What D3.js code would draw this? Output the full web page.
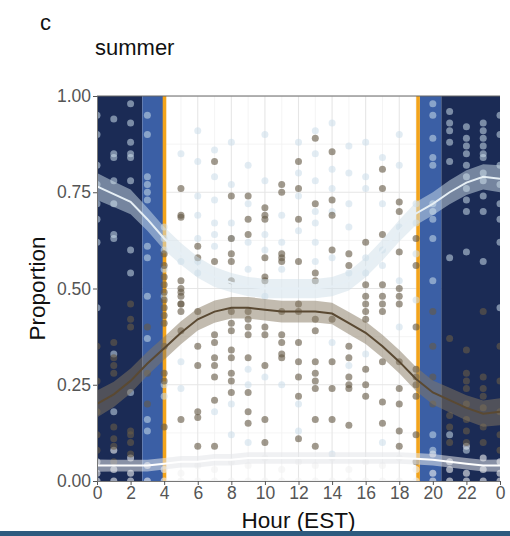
<!DOCTYPE html>
<html>
<head>
<meta charset="utf-8">
<script src="https://cdn.jsdelivr.net/npm/d3@7"></script>
<style>
  body { margin: 0; background: #fff; }
  svg { display: block; font-family: "Liberation Sans", Arial, sans-serif; }
</style>
</head>
<body>
<div id="output"></div>
<script>
// axis ticks
const hourTicks = [0, 2, 4, 6, 8, 10, 12, 14, 16, 18, 20, 22, 24];
const hourTickLabels = ['0', '2', '4', '6', '8', '10', '12', '14', '16', '18', '20', '22', '0'];
const propTicks = [0, 0.25, 0.5, 0.75, 1];
const propTickLabels = ['0.00', '0.25', '0.50', '0.75', '1.00'];

// night / twilight shading and sunrise-sunset (hours)
const nightSpans = [[0, 2.7], [20.5, 24]];
const twilightSpans = [[2.7, 3.93], [19.22, 20.5]];
const sunHours = [4.02, 19.12];

// daily proportions per hour (index = hour 0..23)
const brownPts = [
  [0.35, 0.26, 0.18, 0.12, 0.08],
  [0.36, 0.32, 0.30, 0.28, 0.14, 0.11, 0.09, 0.05],
  [0.46, 0.42, 0.40, 0.13, 0.12, 0.10, 0.07],
  [0.40, 0.28, 0.20],
  [0.59, 0.56, 0.53, 0.51, 0.49, 0.47, 0.45, 0.43, 0.41, 0.35, 0.28, 0.26, 0.14],
  [0.76, 0.69, 0.685, 0.52, 0.50, 0.49, 0.48, 0.46, 0.46, 0.44, 0.39, 0.16],
  [0.61, 0.58, 0.44, 0.35, 0.30, 0.18, 0.165, 0.09],
  [0.83, 0.57, 0.38, 0.36, 0.32, 0.30, 0.27, 0.21, 0.09],
  [0.74, 0.63, 0.59, 0.57, 0.52, 0.44, 0.41, 0.39, 0.34, 0.32, 0.28, 0.26, 0.23],
  [0.74, 0.68, 0.64, 0.44, 0.42, 0.40, 0.38, 0.32, 0.23, 0.18, 0.15],
  [0.71, 0.69, 0.68, 0.58, 0.53, 0.52, 0.40, 0.38, 0.30, 0.16, 0.10],
  [0.77, 0.75, 0.59, 0.58, 0.57, 0.44, 0.38, 0.36, 0.33, 0.32],
  [0.83, 0.76, 0.68, 0.57, 0.46, 0.44, 0.36, 0.31, 0.27, 0.22, 0.11],
  [0.89, 0.72, 0.54, 0.52, 0.42, 0.39, 0.31, 0.28, 0.26, 0.24, 0.16, 0.09],
  [0.855, 0.73, 0.69, 0.60, 0.42, 0.31, 0.24, 0.16],
  [0.59, 0.56, 0.35, 0.32, 0.27, 0.25, 0.24, 0.145],
  [0.62, 0.51, 0.48, 0.46, 0.44, 0.42, 0.29, 0.25, 0.22],
  [0.81, 0.76, 0.64, 0.51, 0.48, 0.46, 0.44, 0.31, 0.205, 0.15],
  [0.725, 0.70, 0.595, 0.50, 0.48, 0.46, 0.31, 0.24, 0.20, 0.13, 0.09],
  [0.63, 0.56, 0.40, 0.29, 0.27, 0.25, 0.22, 0.12, 0.05],
  [0.44, 0.35, 0.27, 0.20],
  [0.37, 0.17, 0.14, 0.10],
  [0.34, 0.28, 0.26, 0.24, 0.20, 0.16, 0.13, 0.10],
  [0.44, 0.27, 0.24, 0.22, 0.19, 0.14, 0.10]
];
const lightPts = [
  [0.95, 0.90, 0.82, 0.77, 0.72, 0.68, 0.62, 0.45],
  [0.94, 0.85, 0.84, 0.78, 0.72, 0.64, 0.63, 0.33, 0.18],
  [0.98, 0.93, 0.88, 0.85, 0.84, 0.78, 0.60, 0.54, 0.23],
  [0.95, 0.90, 0.79, 0.77, 0.75, 0.73, 0.61, 0.58, 0.48, 0.37, 0.16, 0.13],
  [0.66, 0.63, 0.60, 0.55, 0.48, 0.25, 0.22],
  [0.85, 0.57, 0.31, 0.24],
  [0.91, 0.83, 0.74, 0.69, 0.63, 0.57, 0.54],
  [0.86, 0.79, 0.73, 0.67, 0.64, 0.61, 0.18],
  [0.88, 0.77, 0.67, 0.63, 0.20, 0.12],
  [0.82, 0.72, 0.62, 0.55, 0.29, 0.25, 0.10],
  [0.90, 0.78, 0.64, 0.60, 0.48, 0.27],
  [0.69, 0.62, 0.55, 0.25],
  [0.88, 0.80, 0.74, 0.65, 0.20, 0.13],
  [0.91, 0.85, 0.78, 0.70, 0.67, 0.62, 0.57],
  [0.93, 0.81, 0.76, 0.70, 0.58, 0.36, 0.07],
  [0.87, 0.80, 0.72, 0.66, 0.54, 0.30],
  [0.88, 0.79, 0.76, 0.58, 0.54, 0.33],
  [0.84, 0.72, 0.60, 0.56, 0.10],
  [0.90, 0.82, 0.66, 0.52, 0.40],
  [0.72, 0.67, 0.59, 0.47],
  [0.98, 0.95, 0.89, 0.84, 0.82, 0.72, 0.70, 0.68, 0.63, 0.52, 0.12, 0.08],
  [0.96, 0.93, 0.91, 0.88, 0.83, 0.58, 0.12],
  [0.92, 0.89, 0.87, 0.85, 0.82, 0.79, 0.76, 0.73, 0.70, 0.595, 0.08],
  [0.93, 0.91, 0.89, 0.87, 0.85, 0.84, 0.80, 0.78, 0.74, 0.70, 0.57]
];
const whitePts = [
  [0, 0.02, 0.05], [0, 0.03, 0.08], [0, 0.02, 0.06], [0, 0.04], [0, 0.03],
  [0, 0.02], [0, 0.04], [0, 0.03], [0, 0.05], [0, 0.04], [0, 0.06], [0, 0.03],
  [0, 0.05], [0, 0.04], [0, 0.06], [0, 0.03], [0, 0.05], [0, 0.04], [0, 0.06],
  [0, 0.03], [0, 0.02, 0.07], [0, 0.03, 0.05], [0, 0.02, 0.09], [0, 0.03, 0.06]
];

// smoothed fits at hours 0..24 with standard error half-widths
const fitHours = [0, 1, 2, 3, 4, 5, 6, 7, 8, 9, 10, 11, 12, 13, 14, 15, 16, 17, 18, 19, 20, 21, 22, 23, 24];
const lightFit = [0.765, 0.745, 0.725, 0.68, 0.63, 0.59, 0.555, 0.53, 0.515, 0.505, 0.50, 0.50, 0.50, 0.50, 0.505, 0.52, 0.555, 0.60, 0.65, 0.695, 0.72, 0.75, 0.775, 0.79, 0.785];
const lightSe = [0.035, 0.033, 0.032, 0.03, 0.03, 0.028, 0.027, 0.026, 0.025, 0.025, 0.025, 0.025, 0.025, 0.025, 0.025, 0.025, 0.026, 0.027, 0.028, 0.03, 0.03, 0.031, 0.032, 0.033, 0.035];
const brownFit = [0.20, 0.225, 0.26, 0.305, 0.345, 0.385, 0.42, 0.44, 0.45, 0.45, 0.445, 0.44, 0.44, 0.44, 0.435, 0.41, 0.385, 0.35, 0.31, 0.265, 0.23, 0.21, 0.19, 0.175, 0.18];
const brownSe = [0.035, 0.033, 0.032, 0.031, 0.03, 0.03, 0.029, 0.029, 0.028, 0.028, 0.028, 0.028, 0.028, 0.028, 0.028, 0.029, 0.029, 0.03, 0.03, 0.031, 0.031, 0.032, 0.033, 0.034, 0.035];
const whiteFit = [0.04, 0.04, 0.04, 0.04, 0.045, 0.05, 0.05, 0.055, 0.055, 0.06, 0.06, 0.06, 0.06, 0.06, 0.06, 0.06, 0.06, 0.06, 0.06, 0.058, 0.055, 0.05, 0.045, 0.04, 0.04];
const whiteSe = [0.016, 0.015, 0.015, 0.015, 0.015, 0.015, 0.015, 0.015, 0.015, 0.015, 0.015, 0.015, 0.015, 0.015, 0.015, 0.015, 0.015, 0.015, 0.015, 0.015, 0.015, 0.015, 0.015, 0.015, 0.016];

const W = 510, H = 536;
const margin = { left: 97, right: 10, top: 96, bottom: 55 };

const svg = d3.select('#output').append('svg')
  .attr('width', W)
  .attr('height', H);

const x = d3.scaleLinear().domain([0, 24]).range([margin.left, 500]);
const y = d3.scaleLinear().domain([0, 1]).range([481, margin.top]);

svg.append('defs').append('clipPath').attr('id', 'panel')
  .append('rect')
  .attr('x', x(0)).attr('y', y(1))
  .attr('width', x(24) - x(0)).attr('height', y(0) - y(1));

const panel = svg.append('g').attr('clip-path', 'url(#panel)');

// grid
const minorX = [1, 3, 5, 7, 9, 11, 13, 15, 17, 19, 21, 23];
const minorY = [0.125, 0.375, 0.625, 0.875];
panel.selectAll('.gx-minor').data(minorX).join('line')
  .attr('x1', d => x(d)).attr('x2', d => x(d))
  .attr('y1', y(0)).attr('y2', y(1))
  .attr('stroke', '#f1f1f1').attr('stroke-width', 0.8);
panel.selectAll('.gy-minor').data(minorY).join('line')
  .attr('x1', x(0)).attr('x2', x(24))
  .attr('y1', d => y(d)).attr('y2', d => y(d))
  .attr('stroke', '#f1f1f1').attr('stroke-width', 0.8);
panel.selectAll('.gx').data(hourTicks).join('line')
  .attr('x1', d => x(d)).attr('x2', d => x(d))
  .attr('y1', y(0)).attr('y2', y(1))
  .attr('stroke', '#e6e6e6').attr('stroke-width', 1.1);
panel.selectAll('.gy').data(propTicks).join('line')
  .attr('x1', x(0)).attr('x2', x(24))
  .attr('y1', d => y(d)).attr('y2', d => y(d))
  .attr('stroke', '#e6e6e6').attr('stroke-width', 1.1);

// top border
svg.append('line')
  .attr('x1', x(0)).attr('x2', x(24))
  .attr('y1', y(1)).attr('y2', y(1))
  .attr('stroke', '#666').attr('stroke-width', 1);

// night shading
panel.selectAll('.night').data(nightSpans).join('rect')
  .attr('x', d => x(d[0])).attr('width', d => x(d[1]) - x(d[0]))
  .attr('y', y(1)).attr('height', y(0) - y(1))
  .attr('fill', '#1b2b55');
panel.selectAll('.twi').data(twilightSpans).join('rect')
  .attr('x', d => x(d[0])).attr('width', d => x(d[1]) - x(d[0]))
  .attr('y', y(1)).attr('height', y(0) - y(1))
  .attr('fill', '#3b5fa5');
panel.selectAll('.sun').data(sunHours).join('line')
  .attr('x1', d => x(d)).attr('x2', d => x(d))
  .attr('y1', y(0)).attr('y2', y(1))
  .attr('stroke', '#f3a41b').attr('stroke-width', 3.6);

// points (hour 0 is repeated at 24)
function flatten(pts) {
  const out = [];
  pts.forEach((vals, h) => {
    vals.forEach(v => {
      out.push({ h, v });
      if (h === 0) out.push({ h: 24, v });
    });
  });
  return out;
}

panel.selectAll('.pw').data(flatten(whitePts)).join('circle')
  .attr('cx', d => x(d.h)).attr('cy', d => y(d.v)).attr('r', 3.5)
  .attr('fill', '#f2f2f2').attr('fill-opacity', 0.6);
panel.selectAll('.pl').data(flatten(lightPts)).join('circle')
  .attr('cx', d => x(d.h)).attr('cy', d => y(d.v)).attr('r', 3.5)
  .attr('fill', '#cbdcea').attr('fill-opacity', 0.55);
panel.selectAll('.pb').data(flatten(brownPts)).join('circle')
  .attr('cx', d => x(d.h)).attr('cy', d => y(d.v)).attr('r', 3.5)
  .attr('fill', '#665a47').attr('fill-opacity', 0.62);

// fitted bands and lines
const series = [
  { fit: whiteFit, se: whiteSe, band: '#e4e6ea', bandOp: 0.55, line: '#ffffff' },
  { fit: lightFit, se: lightSe, band: '#cfdfea', bandOp: 0.5, line: '#e6eff5' },
  { fit: brownFit, se: brownSe, band: '#85775f', bandOp: 0.5, line: '#5a4932' }
];

series.forEach(s => {
  const rows = fitHours.map((h, i) => ({ h, m: s.fit[i], se: s.se[i] }));
  panel.append('path').datum(rows)
    .attr('d', d3.area()
      .x(d => x(d.h))
      .y0(d => y(d.m - d.se))
      .y1(d => y(d.m + d.se)))
    .attr('fill', s.band).attr('fill-opacity', s.bandOp);
  panel.append('path').datum(rows)
    .attr('d', d3.line().x(d => x(d.h)).y(d => y(d.m)))
    .attr('fill', 'none').attr('stroke', s.line).attr('stroke-width', 2);
});

// axes
const xAxis = svg.append('g')
  .attr('transform', `translate(0,${y(0)})`)
  .call(d3.axisBottom(x).tickValues(hourTicks)
    .tickFormat((d, i) => hourTickLabels[i]).tickSize(4).tickSizeOuter(0).tickPadding(2));
const yAxis = svg.append('g')
  .attr('transform', `translate(${x(0)},0)`)
  .call(d3.axisLeft(y).tickValues(propTicks)
    .tickFormat((d, i) => propTickLabels[i]).tickSize(4).tickSizeOuter(0).tickPadding(2));

[xAxis, yAxis].forEach(a => {
  a.select('.domain').attr('stroke', '#777');
  a.selectAll('.tick line').attr('stroke', '#555');
  a.selectAll('.tick text')
    .attr('fill', '#555')
    .style('font-size', '17.5px')
    .style('font-family', '"Liberation Sans", Arial, sans-serif');
});

// titles
svg.append('text').attr('x', 40).attr('y', 30)
  .style('font-size', '22px').attr('fill', '#111').text('c');
svg.append('text').attr('x', 95).attr('y', 55)
  .style('font-size', '22px').attr('fill', '#111').text('summer');
svg.append('text')
  .attr('x', x(12)).attr('y', 528)
  .attr('text-anchor', 'middle')
  .style('font-size', '22.5px').attr('fill', '#111')
  .text('Hour (EST)');
svg.append('text')
  .attr('transform', `translate(45,${y(0.5)}) rotate(-90)`)
  .attr('text-anchor', 'middle')
  .style('font-size', '22.5px').attr('fill', '#111')
  .text('Proportion');

// screenshot bottom strip
svg.append('rect')
  .attr('x', 0).attr('y', 531).attr('width', W).attr('height', 5)
  .attr('fill', '#2e5a7e');
</script>
</body>
</html>
